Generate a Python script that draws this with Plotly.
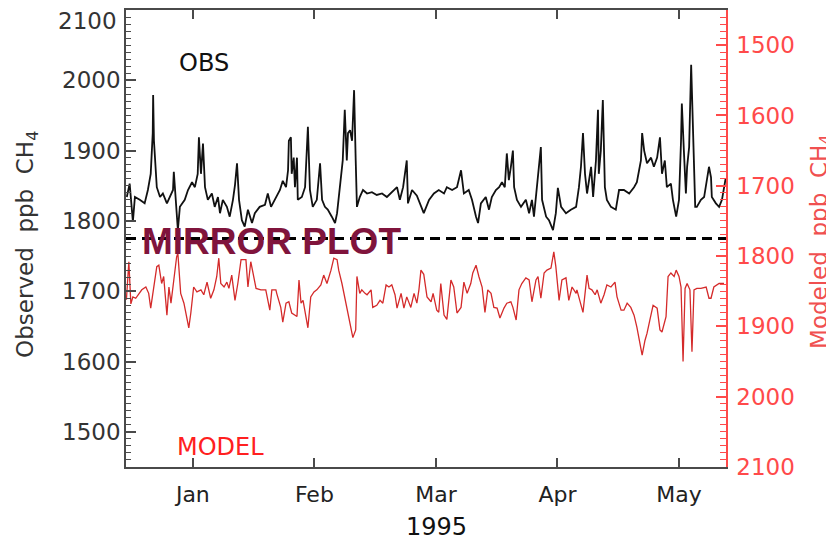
import plotly.graph_objects as go

# Observed CH4 (ppb), x = days since 1995-01-01
OBS_DAY = [-16.3, -15.6, -14.8, -14.3, -13.1, -11.9, -11.1, -10.4, -9.9, -9.8, -9.6, -8.9, -8.1, -7.4,
           -6.4, -5.7, -4.9, -4.7, -4.2, -3.7, -3.2, -2.0, -1.2, -0.2, 0.5, 1.2, 1.5, 2.0, 2.5, 3.0,
           3.7, 4.7, 5.4, 6.2, 6.7, 7.4, 8.4, 9.1, 9.9, 10.4, 10.9, 11.4, 12.1, 12.8, 13.6, 14.6,
           15.3, 16.5, 17.8, 18.5, 19.3, 20.2, 21.5, 22.2, 23.0, 23.5, 23.7, 24.2, 24.4, 24.9, 25.2,
           25.7, 25.9, 26.9, 27.7, 28.4, 28.9, 29.6, 30.6, 31.4, 31.9, 32.6, 33.3, 34.3, 35.1, 35.6,
           36.3, 37.0, 37.5, 38.0, 38.3, 38.8, 39.3, 39.8, 40.2, 40.5, 41.2, 42.0, 43.0, 44.2, 45.4,
           46.7, 47.9, 49.1, 50.4, 51.1, 51.9, 52.8, 53.1, 54.1, 55.3, 57.0, 58.3, 59.5, 60.7, 62.0,
           62.7, 64.0, 65.2, 66.2, 66.9, 68.1, 68.9, 69.9, 70.4, 71.1, 72.3, 73.1, 73.8, 74.8, 75.6,
           76.3, 77.0, 77.5, 78.0, 78.5, 79.0, 79.3, 80.0, 81.0, 82.2, 83.0, 83.7, 84.2, 84.9, 85.9,
           86.2, 87.2, 87.9, 88.9, 89.6, 90.1, 90.9, 92.1, 93.3, 94.6, 95.3, 95.8, 96.3, 96.8, 97.3,
           98.3, 98.8, 99.5, 100.0, 100.2, 100.7, 101.2, 101.7, 102.2, 103.2, 104.4, 105.2, 106.4,
           107.7, 108.9, 109.6, 110.6, 110.9, 111.4, 112.1, 113.1, 113.8, 114.6, 115.3, 115.8, 116.5,
           117.0, 118.0, 118.5, 119.3, 120.0, 120.5, 120.7, 121.2, 121.7, 122.0, 122.5, 123.0, 123.5,
           124.0, 124.4, 125.4, 126.2, 126.9, 127.4, 127.9, 128.1, 129.1, 129.9, 130.6, 131.5]
OBS_PPB = [1834, 1853, 1799, 1834, 1830, 1825, 1844, 1867, 1925, 1979, 1914, 1848, 1834, 1839,
           1825, 1834, 1844, 1870, 1830, 1787, 1820, 1830, 1844, 1855, 1848, 1867, 1919, 1867, 1910, 1848,
           1830, 1839, 1820, 1834, 1811, 1830, 1820, 1806, 1830, 1851, 1882, 1830, 1801, 1792, 1816, 1797,
           1811, 1820, 1823, 1839, 1820, 1830, 1844, 1857, 1848, 1872, 1914, 1919, 1867, 1890, 1848,
           1890, 1830, 1834, 1848, 1934, 1844, 1820, 1830, 1882, 1830, 1820, 1816, 1806, 1797, 1811,
           1848, 1886, 1958, 1886, 1925, 1929, 1914, 1986, 1886, 1820, 1834, 1844, 1839, 1841, 1837,
           1839, 1834, 1841, 1848, 1830, 1848, 1886, 1825, 1844, 1836, 1811, 1830, 1839, 1844, 1839,
           1848, 1844, 1848, 1872, 1839, 1844, 1830, 1806, 1797, 1825, 1834, 1816, 1834, 1844, 1848,
           1855, 1848, 1896, 1858, 1877, 1900, 1848, 1830, 1820, 1830, 1811, 1830, 1806, 1848, 1905,
           1830, 1806, 1801, 1787, 1811, 1847, 1820, 1811, 1816, 1820, 1848, 1877, 1925, 1867, 1839,
           1877, 1834, 1886, 1958, 1867, 1900, 1972, 1848, 1830, 1820, 1816, 1844, 1844,
           1839, 1848, 1855, 1886, 1925, 1900, 1882, 1890, 1877, 1890, 1919, 1867, 1886,
           1848, 1853, 1830, 1806, 1830, 1914, 1967, 1900, 1839, 1877, 1905, 2022, 1914,
           1820, 1820, 1830, 1834, 1858, 1877, 1862, 1834, 1825, 1820, 1830, 1860]

# Modeled CH4 (ppb), plotted on the reversed right axis
MOD_DAY = [-16.4, -15.8, -15.3, -14.8, -14.1, -13.3, -12.6, -11.6, -10.9, -10.4, -9.6, -8.9, -8.4, -7.7,
           -7.2, -6.4, -5.9, -5.4, -4.7, -4.0, -3.7, -3.0, -2.2, -1.5, -1.0, -0.5, 0.2, 1.0, 2.0, 2.7,
           3.5, 4.4, 5.2, 5.9, 6.4, 6.9, 7.7, 8.4, 8.9, 9.6, 10.4, 11.1, 11.9, 13.1, 13.6, 14.3, 14.8,
           15.6, 16.8, 18.0, 19.0, 19.5, 20.5, 20.7, 21.7, 22.2, 23.0, 23.7, 24.4, 25.2, 25.7, 26.2,
           26.7, 27.2, 27.9, 28.4, 29.1, 29.9, 30.6, 31.6, 32.3, 33.1, 34.1, 34.8, 35.6, 36.0, 36.8,
           37.8, 38.3, 39.0, 39.5, 40.2, 40.5, 41.2, 41.7, 42.5, 43.0, 44.0, 44.4, 45.4, 46.2, 46.9,
           47.7, 48.4, 49.1, 49.9, 50.4, 51.4, 52.1, 52.8, 53.8, 54.6, 55.3, 55.8, 56.3, 57.0, 57.8,
           58.8, 59.3, 60.2, 60.7, 61.2, 62.0, 62.7, 63.2, 63.7, 64.4, 65.2, 66.2, 66.9, 67.7, 68.6,
           69.1, 69.9, 70.6, 71.4, 72.1, 72.8, 73.6, 74.3, 75.1, 75.8, 76.8, 77.5, 78.5, 79.0, 79.8,
           80.5, 81.2, 82.2, 83.0, 83.7, 84.7, 85.2, 85.9, 86.7, 87.4, 88.4, 89.1, 89.6, 90.4, 91.1,
           92.1, 92.8, 93.6, 94.6, 94.8, 95.8, 96.3, 97.3, 97.8, 98.5, 99.3, 99.8, 100.7, 101.5, 102.2,
           103.2, 104.2, 104.7, 105.7, 106.4, 107.2, 108.1, 108.9, 109.6, 110.4, 110.9, 111.6, 112.1,
           112.8, 113.6, 114.6, 115.3, 115.8, 116.8, 117.3, 118.0, 118.8, 119.3, 120.0, 120.5, 121.0,
           121.5, 122.0, 122.7, 123.2, 123.7, 124.4, 125.4, 126.7, 127.4, 127.9, 128.6, 129.9, 131.1]
MOD_PPB = [1862, 1808, 1868, 1858, 1860, 1853, 1848, 1844, 1853, 1874, 1844, 1815, 1813, 1839,
           1829, 1884, 1844, 1867, 1834, 1801, 1796, 1853, 1867, 1886, 1902, 1881, 1844, 1851, 1848, 1855,
           1837, 1860, 1848, 1829, 1803, 1839, 1844, 1837, 1846, 1827, 1863, 1839, 1805, 1805, 1844, 1808, 1824,
           1846, 1848, 1848, 1877, 1848, 1848, 1853, 1873, 1894, 1867, 1865, 1881, 1884, 1886, 1834,
           1867, 1863, 1886, 1902, 1858, 1851, 1848, 1841, 1827, 1839, 1820, 1803, 1805, 1820, 1839,
           1867, 1886, 1905, 1916, 1905, 1829, 1853, 1848, 1853, 1855, 1848, 1873, 1870, 1863, 1867,
           1841, 1844, 1841, 1855, 1874, 1853, 1874, 1858, 1873, 1853, 1867, 1848, 1820, 1826, 1858,
           1865, 1853, 1877, 1880, 1839, 1884, 1890, 1863, 1834, 1844, 1881, 1873, 1837, 1853, 1839,
           1824, 1813, 1829, 1844, 1880, 1848, 1853, 1873, 1874, 1888, 1874, 1867, 1865, 1873, 1891,
           1848, 1839, 1831, 1834, 1865, 1834, 1829, 1860, 1824, 1820, 1817, 1794, 1815, 1863, 1834,
           1831, 1863, 1844, 1853, 1848, 1867, 1880, 1827, 1846, 1848, 1855, 1848, 1867, 1855, 1841,
           1844, 1837, 1858, 1877, 1877, 1867, 1873, 1884, 1901, 1924, 1941, 1920, 1910,
           1891, 1870, 1874, 1905, 1908, 1886, 1829, 1824, 1829, 1820, 1829, 1844, 1950,
           1846, 1839, 1848, 1936, 1848, 1846, 1846, 1844, 1860, 1860, 1844, 1839, 1839]

MONTH_DAYS = [0, 30, 60, 90, 120]
MONTH_LABELS = ["Jan", "Feb", "Mar", "Apr", "May"]
X_RANGE = [-16.5, 131.6]
OBS_RANGE = [1450, 2100]
MOD_RANGE = [2100, 1450]
MIRROR_LEVEL = 1775
TOP_LABEL = "2100"

AXIS = "#4a4a4a"
RED = "#ff4a4a"

fig = go.Figure()
fig.add_trace(go.Scatter(x=OBS_DAY, y=OBS_PPB, mode="lines", yaxis="y",
                         line=dict(color="#111111", width=1.8), showlegend=False))
fig.add_trace(go.Scatter(x=MOD_DAY, y=MOD_PPB, mode="lines", yaxis="y2",
                         line=dict(color="#d42a2a", width=1.3), showlegend=False))

fig.add_shape(type="line", xref="paper", x0=0, x1=1, yref="y", y0=MIRROR_LEVEL, y1=MIRROR_LEVEL,
              line=dict(color="black", width=3, dash="10px,6px"))

# the page body adds an 8px offset, so margins are shifted to keep the plot box in place
fig.update_layout(
    width=834, height=543,
    margin=dict(l=118, r=116, t=2, b=84),
    plot_bgcolor="white", paper_bgcolor="white",
    showlegend=False,
    font=dict(family="DejaVu Sans", color="#333333"),
    xaxis=dict(range=X_RANGE, tickmode="array", tickvals=MONTH_DAYS, ticktext=MONTH_LABELS,
               ticks="inside", ticklen=9, tickwidth=1.5, tickcolor=AXIS,
               showline=True, linecolor=AXIS, linewidth=1.5, mirror="ticks",
               showgrid=False, zeroline=False, ticklabelstandoff=7, automargin=False,
               tickfont=dict(size=22, color="#222222")),
    yaxis=dict(range=OBS_RANGE, tickmode="linear", tick0=1500, dtick=100,
               ticks="inside", ticklen=10, tickwidth=1.5, tickcolor=AXIS,
               minor=dict(dtick=10, ticks="inside", ticklen=5, tickcolor=AXIS, tickwidth=1),
               showline=True, linecolor=AXIS, linewidth=1.5, automargin=False,
               showgrid=False, zeroline=False, ticklabelstandoff=-1,
               tickfont=dict(size=23, color="#333333")),
    yaxis2=dict(range=MOD_RANGE, overlaying="y", side="right", tickmode="linear", tick0=1500, dtick=100,
                ticks="inside", ticklen=10, tickwidth=1.5, tickcolor=RED,
                minor=dict(dtick=10, ticks="inside", ticklen=6, tickcolor=RED, tickwidth=1),
                showline=True, linecolor=RED, linewidth=1.5, automargin=False,
                showgrid=False, zeroline=False, ticklabelstandoff=4,
                tickfont=dict(size=23, color=RED)),
    yaxis3=dict(range=OBS_RANGE, overlaying="y", side="right", tickmode="linear", tick0=1500, dtick=100,
                ticks="inside", ticklen=7, tickwidth=1.5, tickcolor="#333333", automargin=False,
                showticklabels=False, showline=False, showgrid=False, zeroline=False),
)

# top tick label of the left axis (nudged down inside the page, as in the original)
fig.add_annotation(x=-0.014, y=OBS_RANGE[1], xref="paper", yref="y", xanchor="right", yanchor="middle",
                   yshift=-11, borderpad=0, text=TOP_LABEL, showarrow=False,
                   font=dict(size=23, color="#333333"))

# axis titles
fig.add_annotation(x=-0.165, y=0.486, xref="paper", yref="paper", xanchor="center", yanchor="middle",
                   text="Observed  ppb  CH<sub>4</sub>", textangle=-90, showarrow=False,
                   font=dict(size=23, color="#333333"))
fig.add_annotation(x=1.158, y=0.492, xref="paper", yref="paper", xanchor="center", yanchor="middle",
                   text="Modeled  ppb  CH<sub>4</sub>", textangle=-90, showarrow=False,
                   font=dict(size=23, color="#f05050"))
fig.add_annotation(x=0.518, y=-0.131, xref="paper", yref="paper", xanchor="center", yanchor="middle",
                   text="1995", showarrow=False, font=dict(size=24, color="#111111"))

# in-plot labels
fig.add_annotation(x=2.7, y=2024, xref="x", yref="y", text="OBS", showarrow=False,
                   font=dict(family="DejaVu Sans", size=24, color="#111111"))
fig.add_annotation(x=6.9, y=1478, xref="x", yref="y", text="MODEL", showarrow=False,
                   font=dict(family="DejaVu Sans", size=24, color="#ff2020"))
fig.add_annotation(x=19.5, y=1771, xref="x", yref="y", text="<b>MIRROR PLOT</b>", showarrow=False,
                   font=dict(family="Liberation Sans", size=37, color="#80143c"))

fig.write_html("out.html")
